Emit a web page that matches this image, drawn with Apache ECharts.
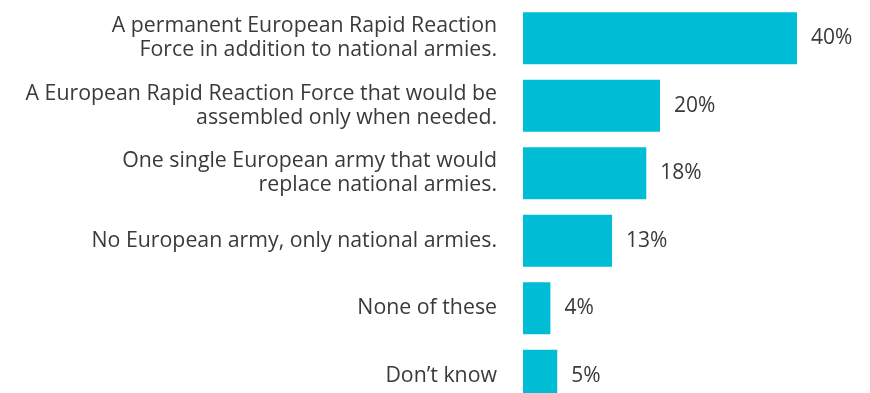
<!DOCTYPE html>
<html>
<head>
<meta charset="utf-8">
<script src="https://cdn.jsdelivr.net/npm/echarts@6/dist/echarts.min.js"></script>
<style>
  html, body { margin: 0; padding: 0; background: #ffffff; }
  #chart { width: 870px; height: 393px; }
</style>
</head>
<body>
<div id="chart"></div>
<script>
// Preferred form of a European army (share of respondents, %)
const categories = [
  'A permanent European Rapid Reaction\nForce in addition to national armies.',
  'A European Rapid Reaction Force that would be\nassembled only when needed.',
  'One single European army that would\nreplace national armies.',
  'No European army, only national armies.',
  'None of these',
  'Don\u2019t know'
];
const values = [40, 20, 18, 13, 4, 5];

const chart = echarts.init(document.getElementById('chart'), null, { renderer: 'canvas' });

chart.setOption({
  animation: false,
  // the last row runs past the bottom edge of the canvas
  grid: {
    left: 523, right: 73, top: 4.5, height: 405,
    containLabel: false,
    outerBoundsMode: 'none'
  },
  xAxis: {
    type: 'value',
    min: 0,
    max: 40,
    show: false,
    splitLine: { show: false }
  },
  yAxis: {
    type: 'category',
    data: categories,
    inverse: true,
    axisLine: { show: false },
    axisTick: { show: false },
    splitLine: { show: false },
    axisLabel: {
      margin: 26,
      align: 'right',
      color: '#3a3a3a',
      fontFamily: 'Open Sans',
      fontSize: 21.3,
      lineHeight: 24
    }
  },
  series: [{
    type: 'bar',
    data: values,
    barWidth: 52,
    itemStyle: { color: '#00bcd4' },
    label: {
      show: true,
      position: 'right',
      distance: 14,
      formatter: '{c}%',
      color: '#3a3a3a',
      fontFamily: 'Open Sans',
      fontSize: 21
    }
  }]
});
</script>
</body>
</html>
